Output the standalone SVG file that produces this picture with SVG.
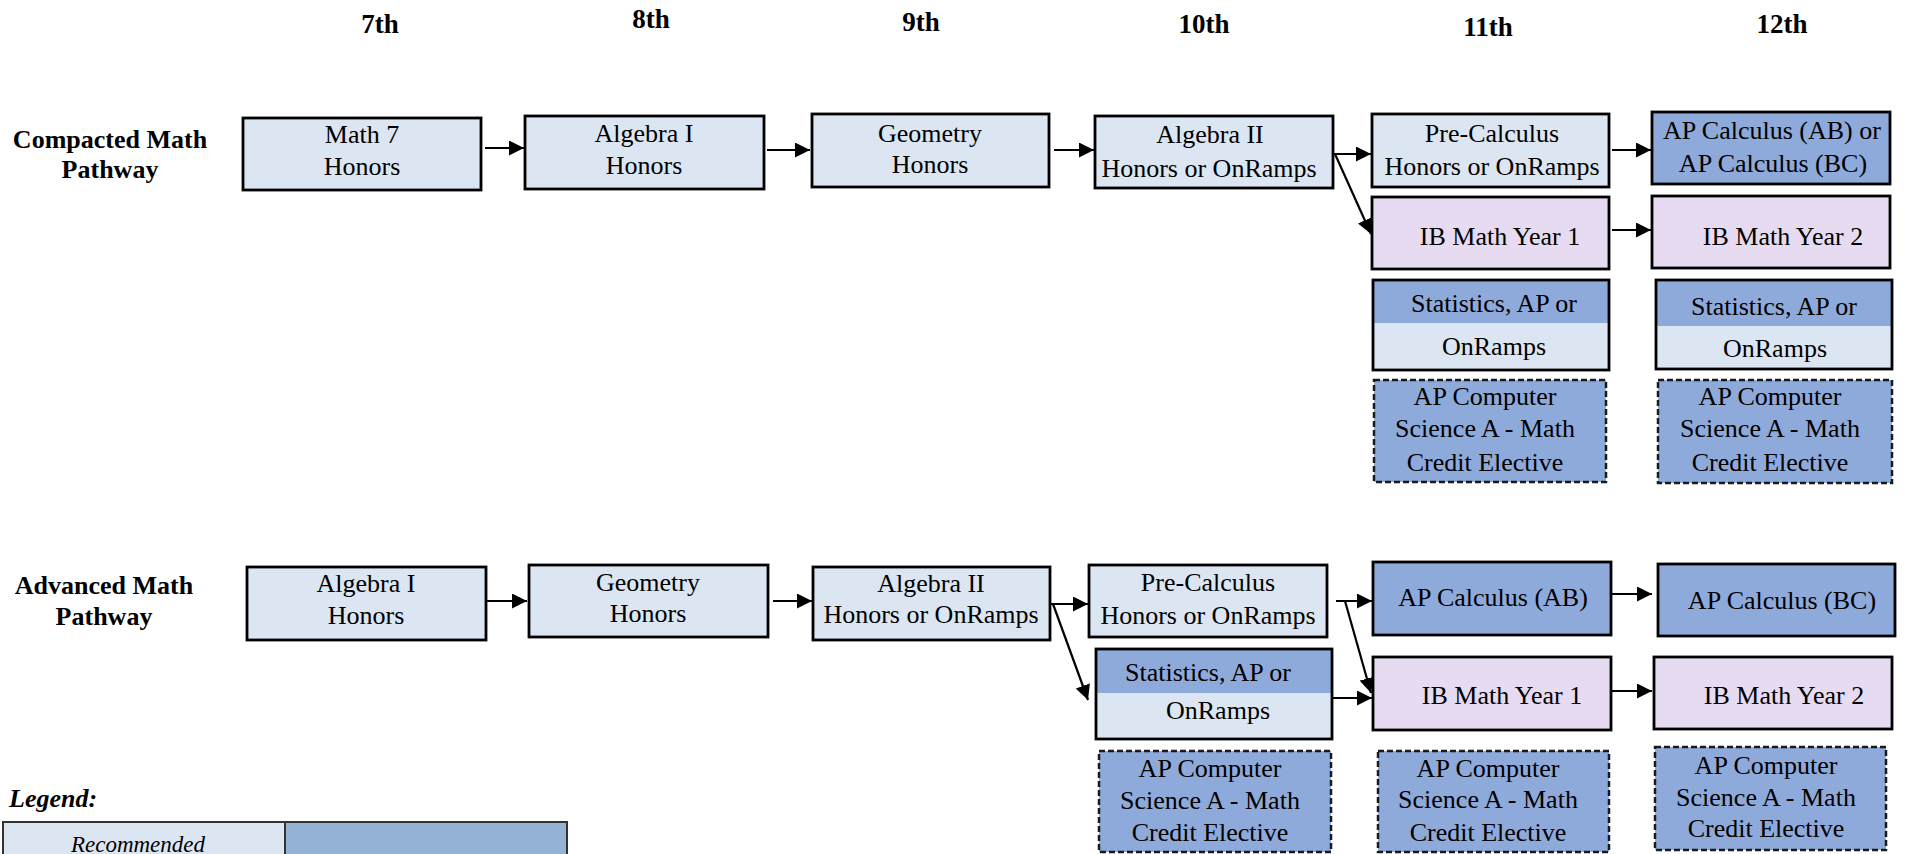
<svg xmlns="http://www.w3.org/2000/svg" width="1906" height="854" viewBox="0 0 1906 854">
<style>
text{font-family:"Liberation Serif","Times New Roman",serif;fill:#000}
.hd{font-size:27px;font-weight:bold;text-anchor:middle}
.rl{font-size:26px;font-weight:bold;text-anchor:middle}
.t{font-size:26px;text-anchor:middle}
.box{stroke:#000;stroke-width:2.8}
.lt{fill:#DCE6F2}
.dk{fill:#8EAADB}
.ib{fill:#E7DBF1}
.dash{stroke:#1a1a1a;stroke-width:2.5;stroke-dasharray:6 3;fill:#8EAADB}
.ol{fill:none;stroke:#000;stroke-width:2.8}
.ar{stroke:#000;stroke-width:2.2;fill:none;marker-end:url(#ah)}
</style>
<defs>
<marker id="ah" viewBox="0 0 12 12" refX="12" refY="6" markerWidth="15" markerHeight="15" markerUnits="userSpaceOnUse" orient="auto">
<path d="M0,0 L12,6 L0,12 z" fill="#000"/>
</marker>
</defs>
<rect width="1906" height="854" fill="#fff"/>

<g id="headers">
<text class="hd" x="380" y="33">7th</text>
<text class="hd" x="651" y="28">8th</text>
<text class="hd" x="921" y="31">9th</text>
<text class="hd" x="1204" y="33">10th</text>
<text class="hd" x="1488" y="36">11th</text>
<text class="hd" x="1782" y="33">12th</text>
</g>

<g id="row-labels">
<text class="rl" x="110" y="148">Compacted Math</text>
<text class="rl" x="110" y="178">Pathway</text>
<text class="rl" x="104" y="594">Advanced Math</text>
<text class="rl" x="104" y="625">Pathway</text>
</g>

<g id="c-math7"><rect class="box lt" x="243" y="118" width="238" height="72"/><text class="t" x="362" y="143">Math 7</text><text class="t" x="362" y="175">Honors</text></g>
<g id="c-alg1"><rect class="box lt" x="525" y="116" width="239" height="73"/><text class="t" x="644" y="142">Algebra I</text><text class="t" x="644" y="174">Honors</text></g>
<g id="c-geo"><rect class="box lt" x="812" y="114" width="237" height="73"/><text class="t" x="930" y="142">Geometry</text><text class="t" x="930" y="173">Honors</text></g>
<g id="c-alg2"><rect class="box lt" x="1095" y="116" width="238" height="72"/><text class="t" x="1210" y="143">Algebra II</text><text class="t" x="1209" y="177">Honors or OnRamps</text></g>
<g id="c-precalc"><rect class="box lt" x="1372" y="114" width="237" height="73"/><text class="t" x="1492" y="142">Pre-Calculus</text><text class="t" x="1492" y="175">Honors or OnRamps</text></g>
<g id="c-apcalc"><rect class="box dk" x="1652" y="112" width="238" height="72"/><text class="t" x="1772" y="139">AP Calculus (AB) or</text><text class="t" x="1773" y="172">AP Calculus (BC)</text></g>
<g id="c-ib1"><rect class="box ib" x="1372" y="197" width="237" height="72"/><text class="t" x="1500" y="245">IB Math Year 1</text></g>
<g id="c-ib2"><rect class="box ib" x="1652" y="196" width="238" height="72"/><text class="t" x="1783" y="245">IB Math Year 2</text></g>
<g id="c-stats11"><rect class="dk" x="1373" y="280" width="236" height="43"/><rect class="lt" x="1373" y="323" width="236" height="47"/><rect class="ol" x="1373" y="280" width="236" height="90"/><text class="t" x="1494" y="312">Statistics, AP or</text><text class="t" x="1494" y="355">OnRamps</text></g>
<g id="c-stats12"><rect class="dk" x="1656" y="280" width="236" height="46"/><rect class="lt" x="1656" y="326" width="236" height="43"/><rect class="ol" x="1656" y="280" width="236" height="89"/><text class="t" x="1774" y="315">Statistics, AP or</text><text class="t" x="1775" y="357">OnRamps</text></g>
<g id="c-apcs11"><rect class="dash" x="1374" y="380" width="232" height="102"/><text class="t" x="1485" y="405">AP Computer</text><text class="t" x="1485" y="437">Science A - Math</text><text class="t" x="1485" y="471">Credit Elective</text></g>
<g id="c-apcs12"><rect class="dash" x="1658" y="380" width="234" height="103"/><text class="t" x="1770" y="405">AP Computer</text><text class="t" x="1770" y="437">Science A - Math</text><text class="t" x="1770" y="471">Credit Elective</text></g>

<g id="a-alg1"><rect class="box lt" x="247" y="567" width="239" height="73"/><text class="t" x="366" y="592">Algebra I</text><text class="t" x="366" y="624">Honors</text></g>
<g id="a-geo"><rect class="box lt" x="529" y="565" width="239" height="72"/><text class="t" x="648" y="591">Geometry</text><text class="t" x="648" y="622">Honors</text></g>
<g id="a-alg2"><rect class="box lt" x="813" y="567" width="237" height="73"/><text class="t" x="931" y="592">Algebra II</text><text class="t" x="931" y="623">Honors or OnRamps</text></g>
<g id="a-precalc"><rect class="box lt" x="1089" y="565" width="238" height="72"/><text class="t" x="1208" y="591">Pre-Calculus</text><text class="t" x="1208" y="624">Honors or OnRamps</text></g>
<g id="a-stats10"><rect class="dk" x="1096" y="649" width="236" height="44"/><rect class="lt" x="1096" y="693" width="236" height="46"/><rect class="ol" x="1096" y="649" width="236" height="90"/><text class="t" x="1208" y="681">Statistics, AP or</text><text class="t" x="1218" y="719">OnRamps</text></g>
<g id="a-apcs10"><rect class="dash" x="1099" y="751" width="232" height="101"/><text class="t" x="1210" y="777">AP Computer</text><text class="t" x="1210" y="809">Science A - Math</text><text class="t" x="1210" y="841">Credit Elective</text></g>
<g id="a-apcalcab"><rect class="box dk" x="1373" y="562" width="238" height="73"/><text class="t" x="1493" y="606">AP Calculus (AB)</text></g>
<g id="a-apcalcbc"><rect class="box dk" x="1658" y="564" width="237" height="72"/><text class="t" x="1782" y="609">AP Calculus (BC)</text></g>
<g id="a-ib1"><rect class="box ib" x="1373" y="657" width="238" height="73"/><text class="t" x="1502" y="704">IB Math Year 1</text></g>
<g id="a-ib2"><rect class="box ib" x="1654" y="657" width="238" height="72"/><text class="t" x="1784" y="704">IB Math Year 2</text></g>
<g id="a-apcs11"><rect class="dash" x="1378" y="751" width="231" height="101"/><text class="t" x="1488" y="777">AP Computer</text><text class="t" x="1488" y="808">Science A - Math</text><text class="t" x="1488" y="841">Credit Elective</text></g>
<g id="a-apcs12"><rect class="dash" x="1655" y="747" width="231" height="103"/><text class="t" x="1766" y="774">AP Computer</text><text class="t" x="1766" y="806">Science A - Math</text><text class="t" x="1766" y="837">Credit Elective</text></g>

<g id="legend">
<text x="9" y="807" style="font-size:26px;font-weight:bold;font-style:italic">Legend:</text>
<rect x="3" y="822" width="282" height="40" fill="#DCE6F2" stroke="#333" stroke-width="2"/>
<rect x="285" y="822" width="282" height="40" fill="#95B3D7" stroke="#333" stroke-width="2"/>
<text x="138" y="852" style="font-size:23px;font-style:italic;text-anchor:middle">Recommended</text>
</g>

<g id="connectors">
<line class="ar" x1="485" y1="148" x2="524" y2="148"/>
<line class="ar" x1="767" y1="150" x2="810" y2="150"/>
<line class="ar" x1="1054" y1="150" x2="1094" y2="150"/>
<line class="ar" x1="1334" y1="154" x2="1371" y2="154"/>
<line class="ar" x1="1335" y1="154" x2="1371" y2="234"/>
<line class="ar" x1="1612" y1="150" x2="1651" y2="150"/>
<line class="ar" x1="1612" y1="230" x2="1651" y2="230"/>

<line class="ar" x1="486" y1="601" x2="527" y2="601"/>
<line class="ar" x1="773" y1="601" x2="812" y2="601"/>
<line class="ar" x1="1051" y1="604" x2="1088" y2="604"/>
<line class="ar" x1="1053" y1="604" x2="1088" y2="700"/>
<line class="ar" x1="1336" y1="601" x2="1372" y2="601"/>
<line class="ar" x1="1345" y1="601" x2="1371" y2="693"/>
<line class="ar" x1="1332" y1="698" x2="1372" y2="698"/>
<line class="ar" x1="1612" y1="594" x2="1652" y2="594"/>
<line class="ar" x1="1612" y1="691" x2="1652" y2="691"/>
</g>
</svg>
